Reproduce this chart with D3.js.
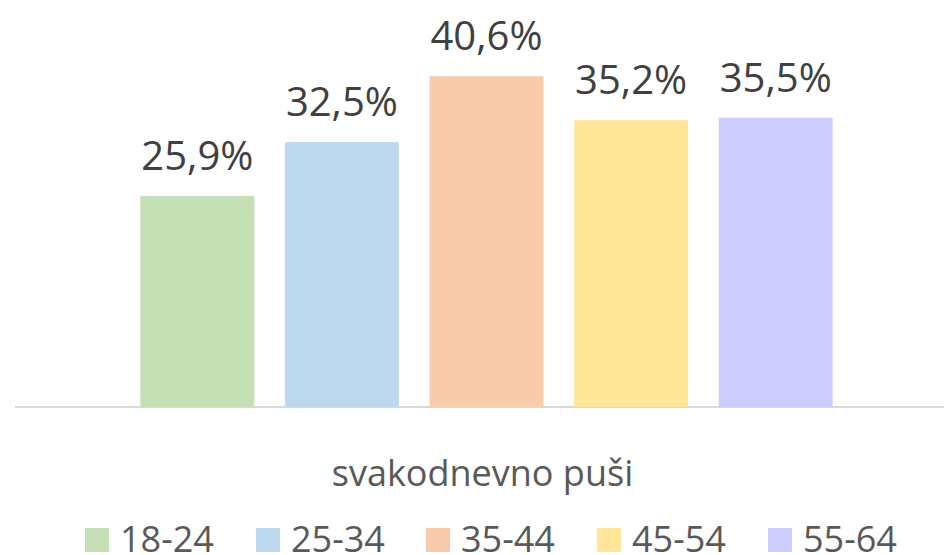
<!DOCTYPE html>
<html><head><meta charset="utf-8">
<script src="https://cdn.jsdelivr.net/npm/d3@7"></script>
<style>body{margin:0;background:#fff;}svg{display:block;font-family:"Open Sans","Liberation Sans",sans-serif;}</style>
</head><body>
<script>
const category = "svakodnevno puši";
const series = ["18-24", "25-34", "35-44", "45-54", "55-64"];
const values = [25.9, 32.5, 40.6, 35.2, 35.5];
const colors = ["#c5e0b4", "#bdd7ee", "#f8cbad", "#ffe699", "#ccccff"];

const W = 944, H = 555;
const svg = d3.select("body").append("svg").attr("width", W).attr("height", H);

const x = d3.scaleBand().domain(series).range([125, 848]).paddingInner(0.212).paddingOuter(0.106);
const y = d3.scaleLinear().domain([0, 45]).range([407, 40.3]);

svg.append("line").attr("x1", 15).attr("x2", W).attr("y1", 407).attr("y2", 407)
  .attr("stroke", "#d9d9d9").attr("stroke-width", 2);

svg.selectAll("rect.bar").data(series).join("rect").attr("class", "bar")
  .attr("x", d => x(d)).attr("width", x.bandwidth())
  .attr("y", (d, i) => y(values[i])).attr("height", (d, i) => y(0) - y(values[i]))
  .attr("fill", (d, i) => colors[i]);

svg.selectAll("text.lbl").data(series).join("text").attr("class", "lbl")
  .attr("x", d => x(d) + x.bandwidth() / 2)
  .attr("y", (d, i) => y(values[i]) - 26)
  .attr("text-anchor", "middle").attr("fill", "#404040").attr("font-size", 40)
  .text((d, i) => d3.format(".1f")(values[i]).replace(".", ",") + "%");

svg.append("text").attr("x", 482.5).attr("y", 486).attr("text-anchor", "middle")
  .attr("fill", "#595959").attr("font-size", 36).text(category);

const lx = [85, 256, 426, 597, 768];
const lg = svg.selectAll("g.leg").data(series).join("g").attr("class", "leg")
  .attr("transform", (d, i) => `translate(${lx[i]},528)`);
lg.append("rect").attr("width", 24).attr("height", 24).attr("fill", (d, i) => colors[i]);
lg.append("text").attr("x", 35).attr("y", 23.5).attr("fill", "#595959").attr("font-size", 36).text(d => d);
</script>
</body></html>
